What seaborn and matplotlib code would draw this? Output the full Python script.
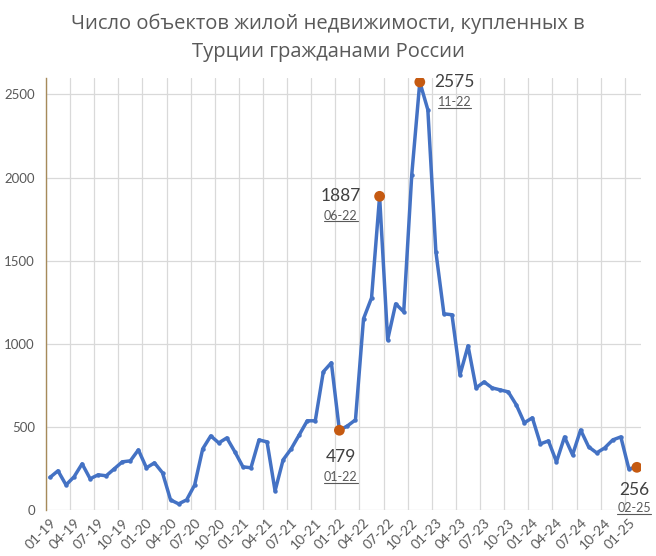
import matplotlib
matplotlib.use("Agg")
import matplotlib.pyplot as plt
import numpy as np
import pandas as pd
import seaborn as sns

# ── data ──────────────────────────────────────────────────────────────────────
YEARS = ["19", "20", "21", "22", "23", "24", "25"]
MONTHS = [f"{m:02d}-{y}" for y in YEARS for m in range(1, 13)][:74]

VALUES = [
    195, 235, 150, 199, 277, 187, 211, 205, 247, 289, 295, 361,   # 2019
    253, 283, 223, 60, 36, 60, 150, 367, 445, 403, 433, 349,      # 2020
    259, 253, 421, 409, 114, 301, 367, 451, 536, 536, 831, 885,   # 2021
    479, 505, 542, 1150, 1276, 1887, 1023, 1240, 1192, 2017, 2575, 2408,  # 2022
    1553, 1180, 1174, 813, 987, 734, 770, 734, 722, 710, 632, 524,  # 2023
    554, 397, 415, 289, 439, 331, 481, 379, 343, 373, 421, 439,   # 2024
    247, 256,                                                     # 2025
]

HIGHLIGHT = ["01-22", "06-22", "11-22", "02-25"]
TITLE = "Число объектов жилой недвижимости, купленных в\nТурции гражданами России"

LINE_C = "#4472C4"
HL_C = "#C55A11"
TXT_C = "#595959"

df = pd.DataFrame({"month": MONTHS, "value": VALUES})
df["x"] = np.arange(len(df))

sns.set_theme(style="white")
plt.rcParams["font.family"] = ["Lato", "DejaVu Sans"]

fig = plt.figure(figsize=(6.56, 5.56), dpi=100)
ax = fig.add_axes([0.070, 0.083, 0.907, 0.777])

sns.lineplot(data=df, x="x", y="value", color=LINE_C, linewidth=2.5,
             marker="o", markersize=3.2, markeredgewidth=0, ax=ax)

hl = df[df["month"].isin(HIGHLIGHT)]
sns.scatterplot(data=hl, x="x", y="value", color=HL_C, s=60,
                edgecolor="none", zorder=5, ax=ax)

# ── axes ──────────────────────────────────────────────────────────────────────
ax.set_xlim(-0.5, len(df) - 0.5)
ax.set_ylim(0, 2600)
ax.set_xticks(df["x"][::3])
ax.set_xticklabels(df["month"][::3], rotation=45, ha="right",
                   rotation_mode="anchor", fontsize=10, color=TXT_C)
ax.set_xticks(np.arange(-0.5, len(df), 3), minor=True)
ax.set_yticks(range(0, 2501, 500))
ax.tick_params(axis="y", labelsize=9.5, labelcolor=TXT_C, length=0, pad=8)
ax.tick_params(axis="x", which="both", length=0, pad=5)
ax.grid(axis="y", color="#D9D9D9", linewidth=0.9)
ax.grid(axis="x", which="minor", color="#D9D9D9", linewidth=0.9)
ax.grid(axis="x", which="major", visible=False)
for s in ["top", "right", "bottom"]:
    ax.spines[s].set_visible(False)
ax.spines["left"].set_color("#A68A5B")
ax.spines["left"].set_linewidth(1.0)
ax.set_xlabel("")
ax.set_ylabel("")

fig.suptitle(TITLE, y=0.975, fontsize=14.5, color=TXT_C, family=["Open Sans", "DejaVu Sans"],
             linespacing=1.5)

# ── annotations (value + underlined month) ────────────────────────────────────
offsets = {  # value (dx, dy), month dy — in points
    "01-22": (1, -19.5, -34),
    "06-22": (-28, 0, -14),
    "11-22": (25, 0, -14.5),
    "02-25": (-2, -16, -29.5),
}
dates = []
for _, r in hl.iterrows():
    dx, dy, dy2 = offsets[r["month"]]
    ax.annotate(f"{r['value']}", (r["x"], r["value"]), xytext=(dx, dy),
                textcoords="offset points", ha="center", va="center",
                fontsize=12.5, color="#404040")
    t = ax.annotate(r["month"], (r["x"], r["value"]), xytext=(dx, dy2),
                    textcoords="offset points", ha="center", va="center",
                    fontsize=9, color=TXT_C)
    dates.append(t)

fig.canvas.draw()
renderer = fig.canvas.get_renderer()
inv = fig.transFigure.inverted()
for t in dates:
    bb = t.get_window_extent(renderer)
    (x0, y0), (x1, _) = inv.transform([(bb.x0, bb.y0), (bb.x1, bb.y0)])
    fig.add_artist(plt.Line2D([x0, x1], [y0 + 0.001, y0 + 0.001],
                              color=TXT_C, linewidth=0.8))

fig.savefig("out.png", dpi=100)
